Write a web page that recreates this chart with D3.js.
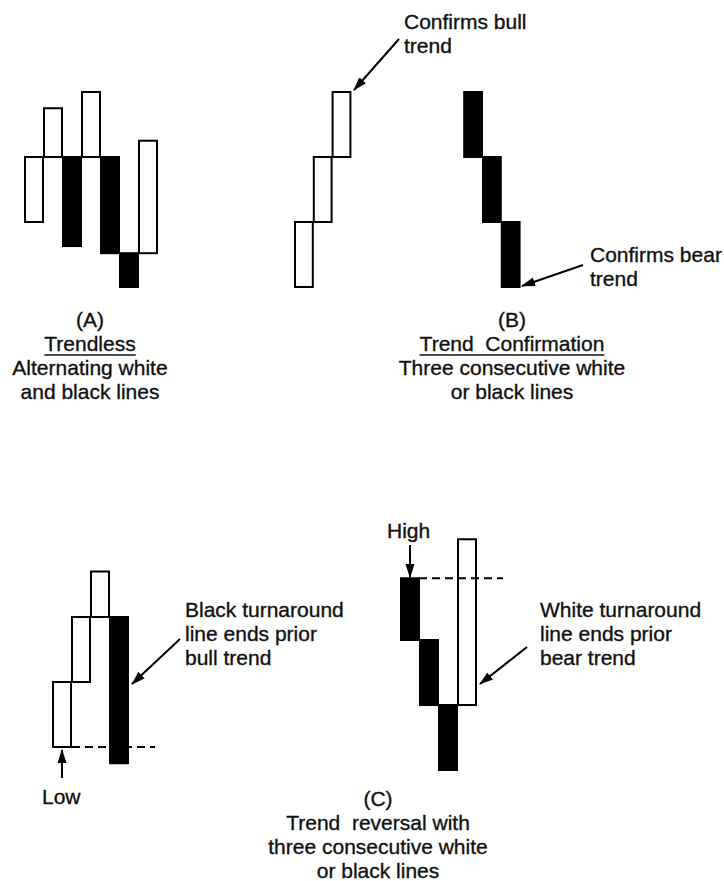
<!DOCTYPE html>
<html>
<head>
<meta charset="utf-8">
<script src="https://cdn.jsdelivr.net/npm/d3@7"></script>
<style>
  html, body { margin: 0; padding: 0; background: #fff; }
  svg { display: block; }
  text { font-family: "Liberation Sans", Arial, Helvetica, sans-serif; font-size: 21px; fill: #111; stroke: #111; stroke-width: 0.35px; white-space: pre; }
</style>
</head>
<body>
<div id="chart"></div>
<script>
// ---------------- DATA ----------------
// Panel A: trendless (alternating white and black lines)
const aOpen  = [10, 20, 20, 20, 20, 5.2, 5.2];
const aClose = [20, 27.5, 6.3, 30, 5.2, 0, 22.5];
const aIndex = [0, 1, 2, 3, 4, 5, 6];

// Panel B: trend confirmation (three white, then three black)
const bOpen  = [0, 10, 20, 30, 20, 10];
const bClose = [10, 20, 30, 20, 10, 0];
const bIndex = [0, 1, 2, 9, 10, 11];

// Panel C left: three white lines then black turnaround
const cLOpen  = [0, 10, 20, 20];
const cLClose = [10, 20, 27, -2.5];
const cLIndex = [0, 1, 2, 3];
const cLLow = 0;

// Panel C right: three black lines then white turnaround
const cROpen  = [29.5, 20, 10, 10];
const cRClose = [20, 10, 0, 35.5];
const cRIndex = [0, 1, 2, 3];
const cRHigh = 29.5;

// Labels
const captionA = ["(A)", "Trendless", "Alternating white", "and black lines"];
const captionB = ["(B)", "Trend  Confirmation", "Three consecutive white", "or black lines"];
const captionC = ["(C)", "Trend  reversal with", "three consecutive white", "or black lines"];
const noteBull = ["Confirms bull", "trend"];
const noteBear = ["Confirms bear", "trend"];
const noteBlack = ["Black turnaround", "line ends prior", "bull trend"];
const noteWhite = ["White turnaround", "line ends prior", "bear trend"];
const noteLow = "Low";
const noteHigh = "High";

// ---------------- DRAW ----------------
const W = 724, H = 881;
const svg = d3.select("#chart").append("svg").attr("width", W).attr("height", H);

const defs = svg.append("defs");
defs.append("marker")
  .attr("id", "arrow").attr("markerUnits", "userSpaceOnUse")
  .attr("markerWidth", 14).attr("markerHeight", 10)
  .attr("refX", 13).attr("refY", 5).attr("orient", "auto")
  .append("path").attr("d", "M0,0.5 L14,5 L0,9.5 Z").attr("fill", "#000");

function lineBreak(opens, closes, idx, x0, step, yDomain, yRange) {
  const n = d3.max(idx) + 1;
  const x = d3.scaleBand().domain(d3.range(n)).range([x0, x0 + step * n]).padding(0);
  const y = d3.scaleLinear().domain(yDomain).range(yRange);
  const g = svg.append("g");
  const data = opens.map((o, i) => ({ open: o, close: closes[i], i: idx[i] }));
  g.selectAll("rect").data(data).join("rect")
    .attr("x", d => x(d.i) + 1)
    .attr("width", x.bandwidth() - 1)
    .attr("y", d => y(Math.max(d.open, d.close)))
    .attr("height", d => Math.abs(y(d.open) - y(d.close)))
    .attr("fill", d => d.close > d.open ? "#fff" : "#000")
    .attr("stroke", "#000")
    .attr("stroke-width", 2);
  g.selectAll("rect").filter(d => d.close < d.open).raise();
  return { x, y, g };
}

const A = lineBreak(aOpen, aClose, aIndex, 24, 19, [0, 30], [287, 92]);
const B = lineBreak(bOpen, bClose, bIndex, 294, 18.8, [0, 30], [287, 92]);
const CL = lineBreak(cLOpen, cLClose, cLIndex, 52, 19, [0, 30], [747, 552]);
const CR = lineBreak(cROpen, cRClose, cRIndex, 400, 19, [0, 30], [770, 575]);

// dashed reference lines
svg.append("line")
  .attr("x1", CL.x(1) + 1).attr("x2", 155)
  .attr("y1", CL.y(cLLow)).attr("y2", CL.y(cLLow))
  .attr("stroke", "#000").attr("stroke-width", 2).attr("stroke-dasharray", "8,5");
svg.append("line")
  .attr("x1", CR.x(1)).attr("x2", 503)
  .attr("y1", CR.y(cRHigh)).attr("y2", CR.y(cRHigh))
  .attr("stroke", "#000").attr("stroke-width", 2).attr("stroke-dasharray", "8,5");

// arrows
function arrow(x1, y1, x2, y2) {
  svg.append("line").attr("x1", x1).attr("y1", y1).attr("x2", x2).attr("y2", y2)
    .attr("stroke", "#000").attr("stroke-width", 2).attr("marker-end", "url(#arrow)");
}
arrow(399, 39, 354, 90);
arrow(583, 265, 522, 286);
arrow(180, 639, 132, 684);
arrow(527, 647, 480, 684);
arrow(62, 778, 62, 750);
arrow(410, 545, 410, 577);

// text helpers
function block(lines, x, y0, dy, anchor) {
  const t = svg.append("g");
  lines.forEach((s, i) => {
    t.append("text").attr("x", x).attr("y", y0 + i * dy)
      .attr("text-anchor", anchor).text(s);
  });
  return t;
}
function underline(textSel, yOff) {
  const node = textSel.node();
  const bb = node.getBBox();
  svg.append("line").attr("x1", bb.x).attr("x2", bb.x + bb.width)
    .attr("y1", +textSel.attr("y") + yOff).attr("y2", +textSel.attr("y") + yOff)
    .attr("stroke", "#111").attr("stroke-width", 1.5);
}

const gA = block(captionA, 90, 327, 24, "middle");
underline(gA.selectAll("text").filter((d, i) => i === 1), 4);
const gB = block(captionB, 512, 327, 24, "middle");
underline(gB.selectAll("text").filter((d, i) => i === 1), 4);
block(captionC, 378, 806, 24, "middle");

block(noteBull, 404, 29, 24, "start");
block(noteBear, 590, 262, 24, "start");
block(noteBlack, 185, 617, 24, "start");
block(noteWhite, 540, 617, 24, "start");
block([noteLow], 42, 804, 24, "start");
block([noteHigh], 387, 538, 24, "start");
</script>
</body>
</html>
